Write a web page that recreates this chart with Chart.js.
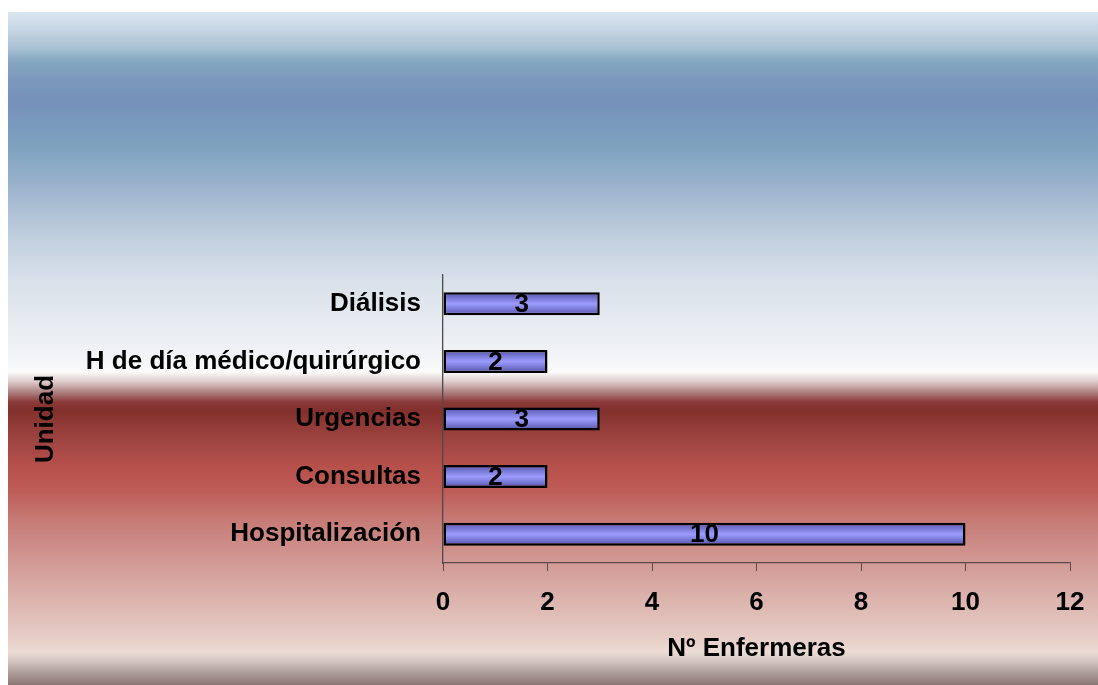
<!DOCTYPE html>
<html>
<head>
<meta charset="utf-8">
<script src="https://cdn.jsdelivr.net/npm/chart.js@4/dist/chart.umd.min.js"></script>
<style>
  html, body { margin: 0; padding: 0; background: #ffffff; }
  canvas { display: block; }
</style>
</head>
<body>
<canvas id="chart" width="1098" height="685"></canvas>
<script>
// Nurses per hospital unit
const categories = ['Diálisis', 'H de día médico/quirúrgico', 'Urgencias', 'Consultas', 'Hospitalización'];
const nurses = [3, 2, 3, 2, 10];
const xTickMin = 0;
const xTickMax = 12;
const xTickStep = 2;
const xTitle = 'Nº Enfermeras';
const yTitle = 'Unidad';

const FONT = "'Liberation Sans', Arial, sans-serif";
const FONT_SIZE = 26;
Chart.defaults.font.family = FONT;

// Backdrop: vertical band gradient behind the whole chart
const backdrop = {
  id: 'backdrop',
  beforeDraw(chart) {
    const ctx = chart.ctx;
    const x0 = 8, y0 = 12, x1 = chart.width, y1 = chart.height;
    ctx.save();
    ctx.fillStyle = '#ffffff';
    ctx.fillRect(0, 0, chart.width, chart.height);
    const g = ctx.createLinearGradient(0, y0, 0, y1);
    const stops = [
      [12, '#d9e6f2'], [30, '#c6d5e3'], [48, '#a9c1d3'], [60, '#86a8c1'],
      [80, '#7b99bd'], [100, '#7590b9'], [125, '#7a9abe'], [150, '#80a4c0'],
      [180, '#96b0ca'], [200, '#a6bbd2'], [240, '#c2d0df'], [280, '#d8e0e9'],
      [320, '#e6ebf1'], [355, '#f1f3f6'], [372, '#fbfbfb'], [382, '#dcc8c8'],
      [392, '#ae8282'], [402, '#8a3a38'], [410, '#82302d'], [440, '#9f4440'],
      [470, '#b9524d'], [490, '#bd5b56'], [520, '#c67a75'], [560, '#d29893'],
      [600, '#dcb4ae'], [640, '#e7cfc8'], [652, '#ecdcd6'], [662, '#d0c2bd'],
      [672, '#b0a09c'], [685, '#8b7572']
    ];
    stops.forEach(([y, c]) => g.addColorStop(Math.min(1, Math.max(0, (y - y0) / (y1 - y0))), c));
    ctx.fillStyle = g;
    ctx.fillRect(x0, y0, x1 - x0, y1 - y0);
    ctx.restore();
  }
};

// Value labels centred on each bar
const barValues = {
  id: 'barValues',
  afterDatasetsDraw(chart) {
    const ctx = chart.ctx;
    const meta = chart.getDatasetMeta(0);
    ctx.save();
    ctx.font = 'bold ' + FONT_SIZE + 'px ' + FONT;
    ctx.fillStyle = '#000000';
    ctx.textAlign = 'center';
    ctx.textBaseline = 'middle';
    meta.data.forEach((bar, i) => {
      const { x, y, base } = bar.getProps(['x', 'y', 'base'], true);
      ctx.fillText(String(chart.data.datasets[0].data[i]), (x + base) / 2, y + 1);
    });
    ctx.restore();
  }
};

// Bar fill shaded across its thickness
function barFill(context) {
  const chart = context.chart;
  const yScale = chart.scales.y;
  if (!yScale || context.dataIndex === undefined) return '#9999ff';
  const cy = yScale.getPixelForValue(context.dataIndex);
  if (!Number.isFinite(cy)) return '#9999ff';
  const half = 11.5;
  const g = chart.ctx.createLinearGradient(0, cy - half, 0, cy + half);
  g.addColorStop(0, '#5252a8');
  g.addColorStop(0.5, '#9c9cff');
  g.addColorStop(1, '#5252a8');
  return g;
}

new Chart(document.getElementById('chart'), {
  type: 'bar',
  data: {
    labels: categories,
    datasets: [{
      data: nurses,
      backgroundColor: barFill,
      borderColor: '#000000',
      borderWidth: 2.5,
      borderSkipped: false,
      categoryPercentage: 0.8,
      barPercentage: 0.5
    }]
  },
  options: {
    indexAxis: 'y',
    responsive: false,
    animation: false,
    layout: { padding: { left: 0, top: 275, right: 28, bottom: 0 } },
    plugins: {
      legend: { display: false },
      tooltip: { enabled: false }
    },
    scales: {
      x: {
        type: 'linear',
        min: xTickMin,
        max: xTickMax,
        ticks: {
          stepSize: xTickStep,
          color: '#000000',
          padding: 16,
          font: { size: FONT_SIZE, weight: 'bold' }
        },
        grid: {
          drawOnChartArea: false,
          drawTicks: true,
          tickLength: 8,
          color: '#5a4a4a'
        },
        border: { display: true, color: '#5a4a4a', width: 1.3 },
        title: {
          display: true,
          text: xTitle,
          color: '#000000',
          font: { size: FONT_SIZE, weight: 'bold' },
          padding: { top: 0, bottom: 21 }
        },
        afterFit(scale) {
          scale.height = 122;
          scale.paddingRight = 0;
          scale.paddingLeft = 0;
        }
      },
      y: {
        type: 'category',
        ticks: {
          color: '#000000',
          padding: 22,
          font: { size: FONT_SIZE, weight: 'bold' }
        },
        grid: { display: false, drawTicks: false },
        border: { display: true, color: '#4a4a4a', width: 1.3 },
        title: {
          display: true,
          text: yTitle,
          color: '#000000',
          font: { size: FONT_SIZE, weight: 'bold' },
          padding: { top: 30, bottom: 0 }
        },
        afterFit(scale) { scale.width = 443; }
      }
    }
  },
  plugins: [backdrop, barValues]
});
</script>
</body>
</html>
